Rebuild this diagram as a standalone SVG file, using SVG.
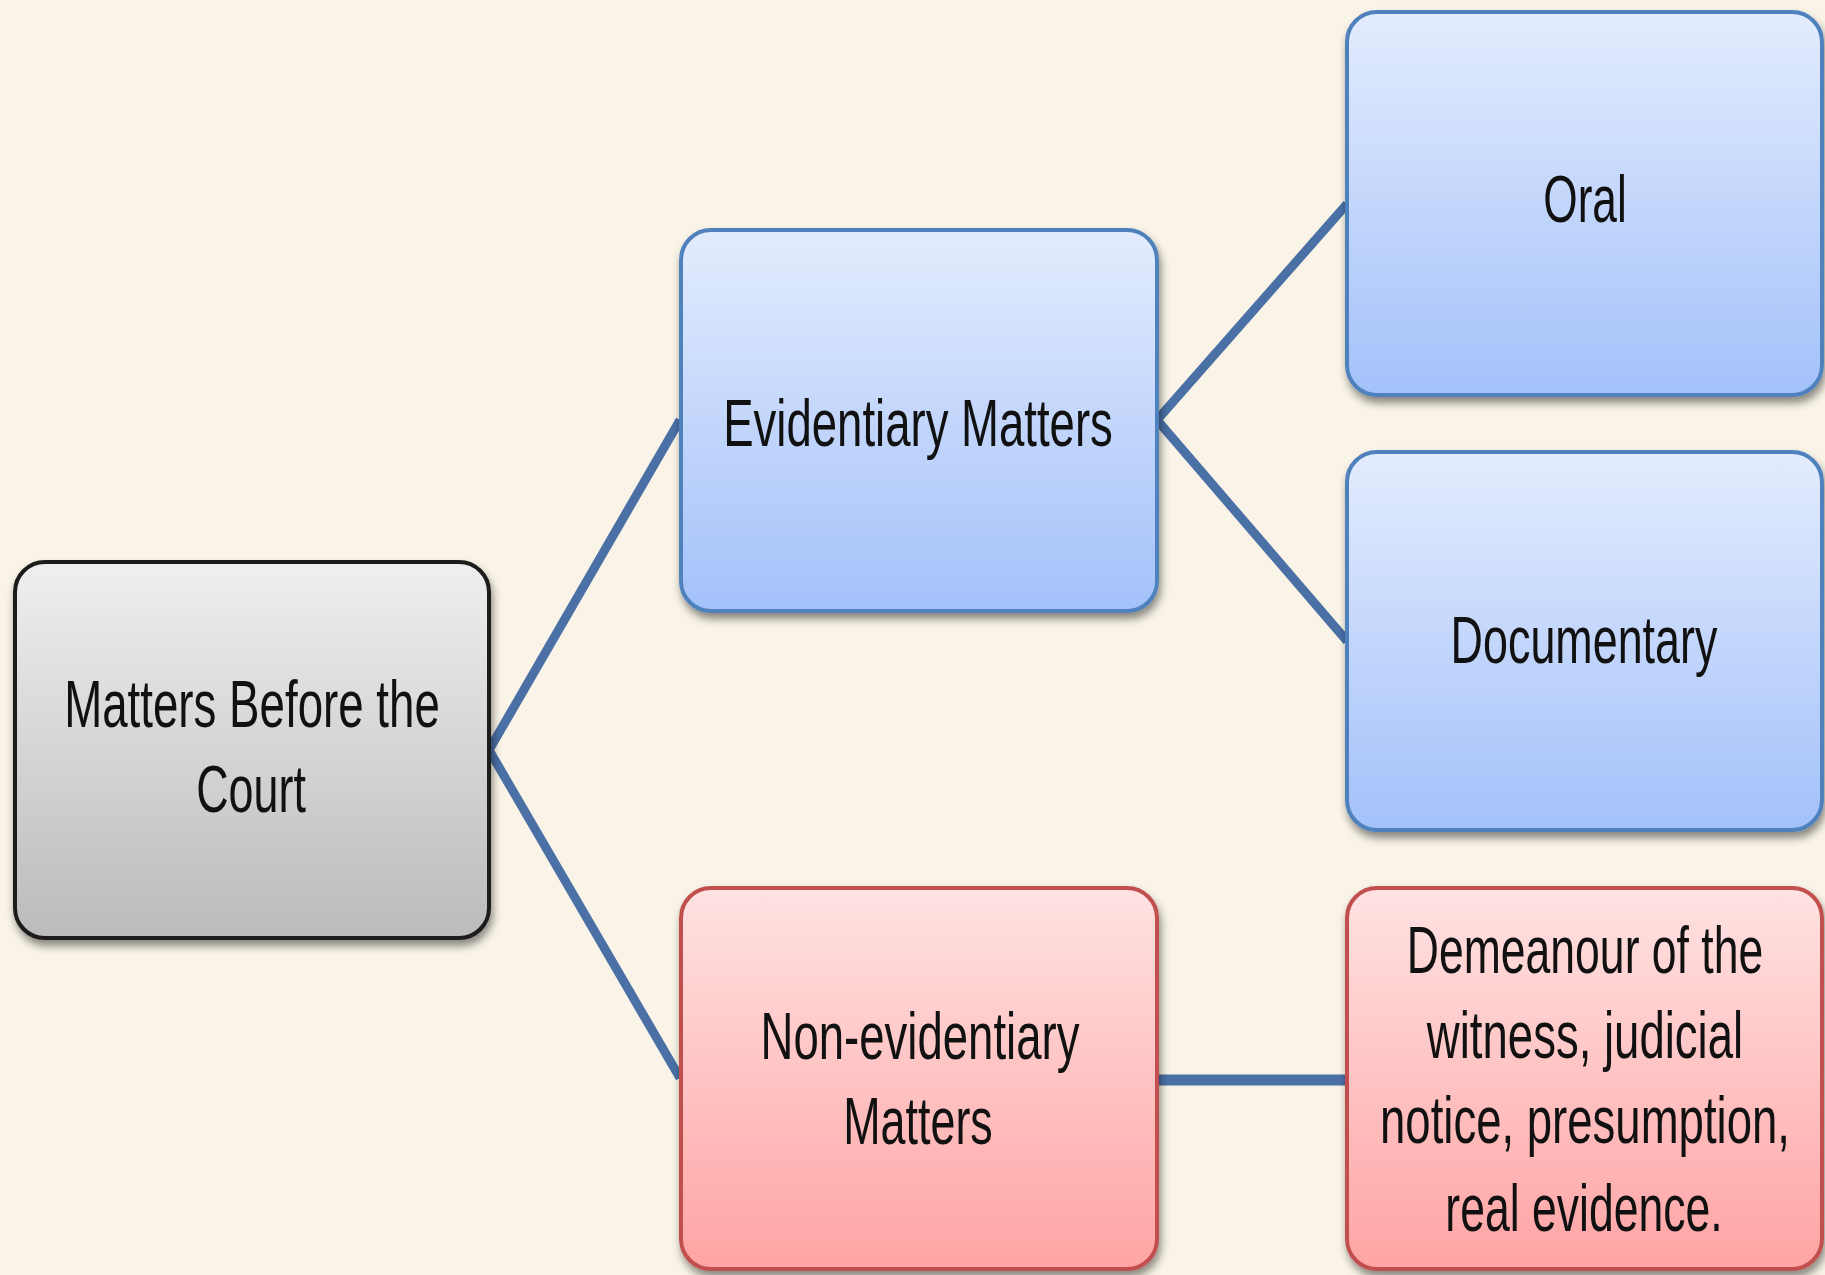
<svg xmlns="http://www.w3.org/2000/svg" width="1825" height="1275" viewBox="0 0 1825 1275">
<defs>
<linearGradient id="gBlue" x1="0" y1="0" x2="0" y2="1"><stop offset="0" stop-color="#e3ecfd"/><stop offset="1" stop-color="#a3c1fa"/></linearGradient>
<linearGradient id="gPink" x1="0" y1="0" x2="0" y2="1"><stop offset="0" stop-color="#ffe2e2"/><stop offset="1" stop-color="#ffa4a4"/></linearGradient>
<linearGradient id="gGray" x1="0" y1="0" x2="0" y2="1"><stop offset="0" stop-color="#efefef"/><stop offset="1" stop-color="#bbbbbb"/></linearGradient>
<filter id="sh" x="-10%" y="-10%" width="120%" height="125%"><feDropShadow dx="2" dy="6" stdDeviation="4" flood-color="#000" flood-opacity="0.45"/></filter>
</defs>
<style>
.box{stroke-width:4;filter:url(#sh)}
.blue{fill:url(#gBlue);stroke:#4f81bd}
.pink{fill:url(#gPink);stroke:#c0504d}
.gray{fill:url(#gGray);stroke:#1c1c1c}
.t{font-family:"Liberation Sans",Arial,sans-serif;font-size:66px;fill:#111;text-anchor:middle}
.c{stroke:#4a70a6;stroke-width:9;fill:none;stroke-linecap:butt}
</style>
<rect width="1825" height="1275" fill="#f9f4e7"/>
<g id="connectors">
<line class="c" x1="489" y1="750" x2="680" y2="420"/>
<line class="c" x1="489" y1="750" x2="680" y2="1078"/>
<line class="c" x1="1157" y1="420" x2="1347" y2="204"/>
<line class="c" x1="1157" y1="420" x2="1347" y2="641"/>
<line class="c" x1="1157" y1="1080" x2="1347" y2="1080" style="stroke-width:11"/>
</g>
<g id="n-court">
<rect class="box gray" x="15" y="562" width="474" height="376" rx="30"/>
<text class="t" transform="translate(252,727) scale(0.692,1)">Matters Before the</text>
<text class="t" transform="translate(251,812) scale(0.68,1)">Court</text>
</g>
<g id="n-evid">
<rect class="box blue" x="681" y="230" width="476" height="381" rx="30"/>
<text class="t" transform="translate(918,446) scale(0.69,1)">Evidentiary Matters</text>
</g>
<g id="n-oral">
<rect class="box blue" x="1347" y="12" width="475" height="383" rx="30"/>
<text class="t" transform="translate(1585,222) scale(0.67,1)">Oral</text>
</g>
<g id="n-doc">
<rect class="box blue" x="1347" y="452" width="475" height="378" rx="30"/>
<text class="t" transform="translate(1584,663) scale(0.68,1)">Documentary</text>
</g>
<g id="n-nonevid">
<rect class="box pink" x="681" y="888" width="476" height="381" rx="30"/>
<text class="t" transform="translate(920,1059) scale(0.69,1)">Non-evidentiary</text>
<text class="t" transform="translate(918,1144) scale(0.68,1)">Matters</text>
</g>
<g id="n-demeanour">
<rect class="box pink" x="1347" y="888" width="475" height="381" rx="30"/>
<text class="t" transform="translate(1585,973) scale(0.675,1)">Demeanour of the</text>
<text class="t" transform="translate(1585,1058) scale(0.69,1)">witness, judicial</text>
<text class="t" transform="translate(1585,1143) scale(0.69,1)">notice, presumption,</text>
<text class="t" transform="translate(1584,1231) scale(0.675,1)">real evidence.</text>
</g>
</svg>
